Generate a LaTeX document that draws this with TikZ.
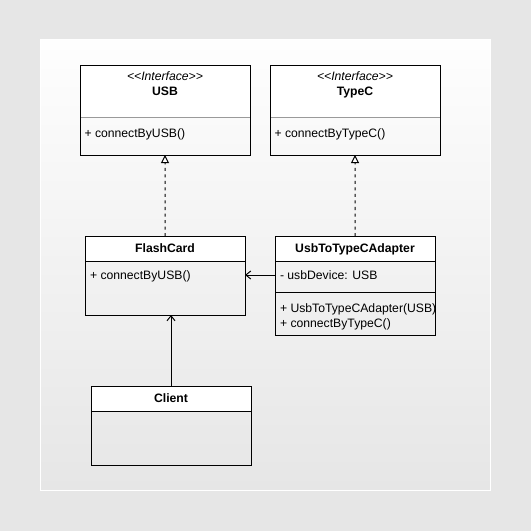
\documentclass[tikz,border=0pt]{standalone}
\usepackage{fontspec}
\setmainfont{Liberation Sans}
\usetikzlibrary{arrows.meta}

\definecolor{canvas}{HTML}{E6E6E6}
\definecolor{paperTop}{HTML}{FEFEFE}
\definecolor{paperMid}{HTML}{EBEBEB}
\definecolor{rule}{HTML}{9A9A9A}

\newcommand{\umlsize}{\fontsize{12.2bp}{14bp}\selectfont}

\tikzset{
  box/.style={draw=black, line width=1bp, inner sep=0pt, outer sep=0pt, anchor=north west},
  head/.style={fill=white, draw=none, inner sep=0pt, outer sep=0pt, anchor=north west},
  part/.style={draw=none, inner sep=0pt, outer sep=0pt, anchor=north west},
  label/.style={inner sep=0pt, outer sep=0pt, text height=8.7bp, text depth=0pt},
  title/.style={label, font=\umlsize\bfseries},
  stereo/.style={label, font=\umlsize\itshape},
  member/.style={label, font=\umlsize, anchor=west},
  realize/.style={line width=1bp, dash pattern=on 3bp off 3.5bp,
    -{Triangle[length=8bp, width=8bp, fill=white, line width=1bp]}},
  assoc/.style={line width=1bp, -{Straight Barb[length=5bp, width=8bp, line width=1bp]}},
}

\begin{document}
\begin{tikzpicture}[x=1bp, y=-1bp]
  \useasboundingbox (0,0) rectangle (531,531);

  % page and sheet
  \fill[canvas] (0,0) rectangle (531,531);
  \shade[top color=paperTop, middle color=paperMid, bottom color=canvas] (40,40) rectangle (490,490);
  \draw[white, line width=1bp] (40,40) rectangle (490,490);

  % interface USB
  \node[head, minimum width=170bp, minimum height=52bp] (usbhead) at (80,66) {};
  \node[stereo] (usbstereo) at (165,76.3) {<\kern0pt<Interface>\kern0pt>};
  \node[title] (usbname) at (165,91.3) {USB};
  \node[member] (usbop) at (84.5,133) {+ connectByUSB()};
  \draw[rule, line width=1bp] (usbhead.south west) -- (usbhead.south east);
  \node[box, minimum width=170bp, minimum height=89bp] (usb) at (80,66) {};

  % interface TypeC
  \node[head, minimum width=170bp, minimum height=52bp] (typechead) at (270,66) {};
  \node[stereo] (typecstereo) at (355,76.3) {<\kern0pt<Interface>\kern0pt>};
  \node[title] (typecname) at (355,91.3) {TypeC};
  \node[member] (typecop) at (274.5,133) {+ connectByTypeC()};
  \draw[rule, line width=1bp] (typechead.south west) -- (typechead.south east);
  \node[box, minimum width=170bp, minimum height=89bp] (typec) at (270,66) {};

  % class FlashCard
  \node[head, minimum width=160bp, minimum height=25bp] (flashhead) at (85,236) {};
  \node[title] (flashname) at (165,248.5) {FlashCard};
  \node[member] (flashop) at (90,275) {+ connectByUSB()};
  \draw[line width=1bp] (flashhead.south west) -- (flashhead.south east);
  \node[box, minimum width=160bp, minimum height=79bp] (flash) at (85,236) {};

  % class UsbToTypeCAdapter
  \node[head, minimum width=160bp, minimum height=25bp] (adapterhead) at (275,236) {};
  \node[part, minimum width=160bp, minimum height=31bp] (adapterattr) at (275,261) {};
  \node[title] (adaptername) at (355,248.5) {UsbToTypeCAdapter};
  \node[member] (adapterfield) at (280,275) {- usbDevice: USB};
  \begin{scope}
    \clip (275,292) rectangle (434.5,335);
    \node[member] (adapterctor) at (280,308.5) {+ UsbToTypeCAdapter(USB)};
  \end{scope}
  \node[member] (adapterop) at (280,323) {+ connectByTypeC()};
  \draw[line width=1bp] (adapterhead.south west) -- (adapterhead.south east);
  \draw[line width=1bp] (adapterattr.south west) -- (adapterattr.south east);
  \node[box, minimum width=160bp, minimum height=99bp] (adapter) at (275,236) {};

  % class Client
  \node[head, minimum width=160bp, minimum height=25bp] (clienthead) at (91,386) {};
  \node[title] (clientname) at (171,398.5) {Client};
  \draw[line width=1bp] (clienthead.south west) -- (clienthead.south east);
  \node[box, minimum width=160bp, minimum height=79bp] (client) at (91,386) {};

  % relations
  \draw[realize] (flash.north) -- (usb.south);
  \draw[realize] (adapter.north) -- (typec.south);
  \draw[assoc] (adapter.west |- adapterfield) -- (flash.east |- adapterfield);
  \draw[assoc] (client.north) -- (client.north |- flash.south);
\end{tikzpicture}
\end{document}
